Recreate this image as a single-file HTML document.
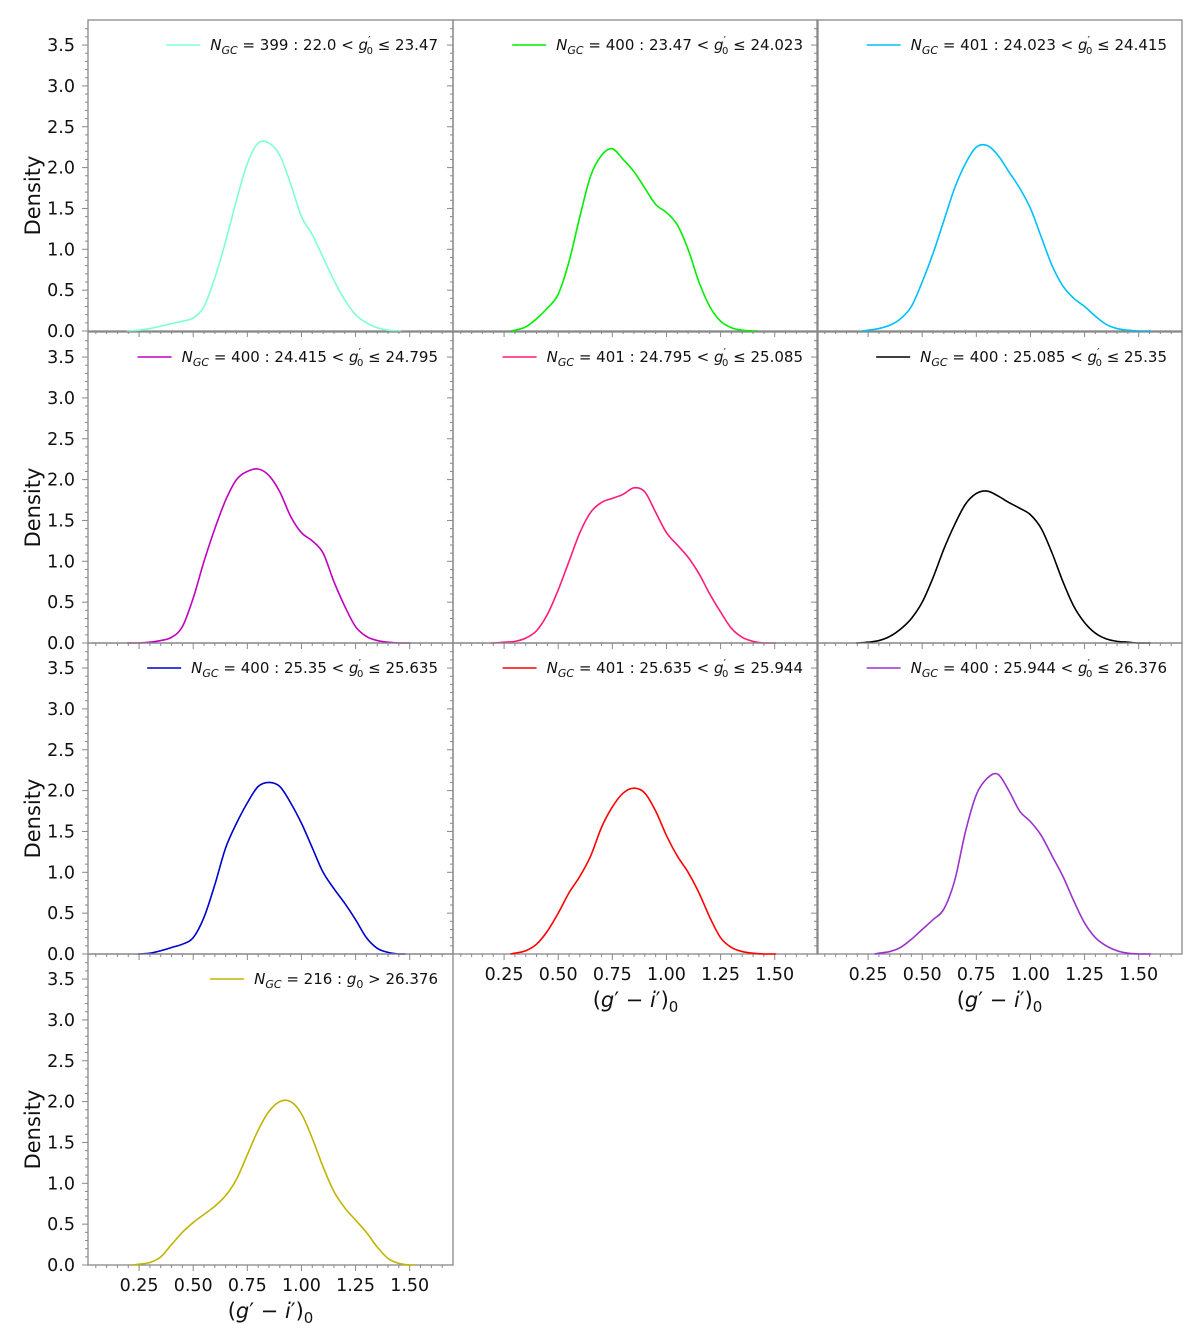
<!DOCTYPE html>
<html><head><meta charset="utf-8"><style>
html,body{margin:0;padding:0;background:#fff;}
svg{display:block;font-family:"DejaVu Sans","Liberation Sans",sans-serif;}
</style></head><body>
<svg id="fig" width="1200" height="1341" viewBox="0 0 1200 1341" xmlns="http://www.w3.org/2000/svg"></svg>
<script>
const gridX = [0.20,0.25,0.30,0.35,0.40,0.45,0.50,0.55,0.60,0.65,0.70,0.75,0.80,0.85,0.90,0.95,1.00,1.05,1.10,1.15,1.20,1.25,1.30,1.35,1.40,1.45,1.50,1.55];
const d1 = [0,0.01,0.03,0.06,0.09,0.12,0.16,0.3,0.65,1.1,1.6,2.05,2.3,2.3,2.15,1.8,1.4,1.18,0.9,0.62,0.38,0.2,0.1,0.04,0.01,0,0,0];
const d2 = [0,0,0.01,0.05,0.15,0.28,0.45,0.85,1.4,1.9,2.15,2.23,2.1,1.95,1.75,1.55,1.45,1.3,1.0,0.6,0.3,0.12,0.04,0.01,0,0,0,0];
const d3 = [0,0.01,0.03,0.07,0.15,0.3,0.6,0.95,1.35,1.75,2.05,2.25,2.27,2.15,1.95,1.75,1.5,1.15,0.8,0.55,0.4,0.3,0.18,0.08,0.03,0.01,0,0];
const d4 = [0,0,0.01,0.03,0.07,0.2,0.55,1.0,1.4,1.75,2.0,2.1,2.13,2.05,1.85,1.55,1.35,1.25,1.1,0.75,0.45,0.2,0.08,0.03,0.01,0,0,0];
const d5 = [0,0.01,0.02,0.06,0.15,0.35,0.65,1.0,1.35,1.6,1.72,1.77,1.82,1.9,1.85,1.6,1.35,1.2,1.05,0.85,0.6,0.38,0.18,0.07,0.02,0,0,0];
const d6 = [0,0.01,0.03,0.08,0.17,0.3,0.5,0.8,1.15,1.45,1.7,1.83,1.86,1.8,1.72,1.65,1.57,1.4,1.1,0.75,0.45,0.25,0.12,0.05,0.02,0.01,0,0];
const d7 = [0,0,0.01,0.04,0.08,0.12,0.2,0.45,0.85,1.3,1.6,1.85,2.05,2.1,2.05,1.85,1.6,1.3,1.0,0.8,0.62,0.42,0.2,0.07,0.02,0,0,0];
const d8 = [0,0,0.01,0.04,0.12,0.28,0.5,0.75,0.95,1.2,1.55,1.8,1.97,2.03,1.97,1.75,1.45,1.2,1.0,0.75,0.45,0.2,0.08,0.03,0.01,0,0,0];
const d9 = [0,0,0.01,0.03,0.08,0.18,0.3,0.42,0.55,0.9,1.5,1.95,2.15,2.2,2.0,1.75,1.62,1.45,1.2,0.95,0.65,0.38,0.2,0.1,0.04,0.01,0,0];
const d10 = [0,0.01,0.03,0.1,0.25,0.4,0.52,0.62,0.72,0.85,1.05,1.35,1.65,1.88,2.0,2.0,1.85,1.55,1.2,0.9,0.7,0.55,0.4,0.22,0.08,0.02,0,0];
const seriesData = [d1,d2,d3,d4,d5,d6,d7,d8,d9,d10];
const startX = [0.20,0.28,0.22,0.20,0.19,0.20,0.25,0.28,0.28,0.22];
const endX = [1.46,1.42,1.55,1.50,1.50,1.55,1.48,1.50,1.55,1.52];
const nGC = ["399","400","401","400","401","400","400","401","400","216"];
const lowB = ["22.0","23.47","24.023","24.415","24.795","25.085","25.35","25.635","25.944",null];
const highB = ["23.47","24.023","24.415","24.795","25.085","25.35","25.635","25.944","26.376","26.376"];
const colors = ["#7fffd4","#00ee00","#00bfff","#c000c0","#ff1a7a","#000000","#0000cd","#ff0000","#9a32cd","#bfb500"];
const yTicks = [0.0,0.5,1.0,1.5,2.0,2.5,3.0,3.5];
const xTicks = [0.25,0.50,0.75,1.00,1.25,1.50];

const NS="http://www.w3.org/2000/svg";
const svg=document.getElementById('fig');
function mk(tag,attrs,parent){const e=document.createElementNS(NS,tag);for(const k in attrs)e.setAttribute(k,attrs[k]);(parent||svg).appendChild(e);return e;}
const colL=[88,453,817], W=365, rowT=[20,332,643,954], H=311;
const XMIN=0.014, XMAX=1.70, YMAX=311/81.7;
const AX='#888';
for(let i=0;i<10;i++){
  const c=i%3, r=Math.floor(i/3);
  const L=colL[c], T=rowT[r], B=T+H, R=L+W;
  const sx=v=>L+(v-XMIN)/(XMAX-XMIN)*W;
  const sy=v=>B-v/YMAX*H;
  const g=mk('g',{});
  
  
  const fr=mk('rect',{x:L,y:T,width:W,height:H,fill:'none',stroke:AX,'stroke-width':1.3},g);
  
  
  for(let k=0;k<=37;k++){const v=k*0.1;if(v>YMAX)break;const y=sy(v);const major=(k%5===0);
    mk('line',{x1:L-(major?6:3),x2:L,y1:y,y2:y,stroke:AX,'stroke-width':1},g);}
  if(c===0){
    for(const v of yTicks){const t=mk('text',{x:L-13,y:sy(v)+6,'text-anchor':'end','font-size':17.5,fill:'#111'},g);t.textContent=v.toFixed(1);
      }
    const yl=mk('text',{x:0,y:0,'text-anchor':'middle','font-size':21,fill:'#111',transform:`translate(40,${(T+B)/2+20}) rotate(-90)`},g);
    yl.textContent='Density';
    
  }
  for(let k=1;k<=33;k++){const v=k*0.05;const x=sx(v);if(x>R)break;const major=Math.abs(v/0.25-Math.round(v/0.25))<1e-6;
    mk('line',{x1:x,x2:x,y1:B,y2:B+(major?6:3),stroke:AX,'stroke-width':1},g);}
  const showX=(i===7||i===8||i===9);
  if(showX){
    for(const v of xTicks){const t=mk('text',{x:sx(v),y:B+26,'text-anchor':'middle','font-size':17.5,fill:'#111'},g);t.textContent=v.toFixed(2);
      }
    const xt=mk('text',{x:(L+R)/2,y:B+53,'text-anchor':'middle','font-size':21,fill:'#111'},g);
    xt.innerHTML='(<tspan font-style="italic">g</tspan>′ − <tspan font-style="italic">i</tspan>′)<tspan font-size="15" dy="5">0</tspan>';
    
  }
  const d=seriesData[i];
  const pts=[];
  for(let k=0;k<gridX.length;k++){let v=gridX[k];if(v<startX[i]-1e-9)continue;if(v>endX[i]+1e-9)continue;pts.push([sx(v),sy(d[k])]);}
  pts.unshift([sx(startX[i]),sy(0)]);pts.push([sx(endX[i]),sy(0)]);
  let p=`M${pts[0][0]},${pts[0][1]}`;
  for(let k=0;k<pts.length-1;k++){const p0=pts[Math.max(k-1,0)],p1=pts[k],p2=pts[k+1],p3=pts[Math.min(k+2,pts.length-1)];
    const c1=[p1[0]+(p2[0]-p0[0])/6,p1[1]+(p2[1]-p0[1])/6],c2=[p2[0]-(p3[0]-p1[0])/6,p2[1]-(p3[1]-p1[1])/6];
    p+=` C${c1[0]},${Math.min(c1[1],B)} ${c2[0]},${Math.min(c2[1],B)} ${p2[0]},${p2[1]}`;}
  const path=mk('path',{d:p,fill:'none',stroke:colors[i],'stroke-width':1.6},g);
  
  const lt=mk('text',{x:0,y:T+30,'text-anchor':'start','font-size':15,fill:'#111'},g);
  let html='<tspan font-style="italic">N</tspan><tspan font-style="italic" font-size="11" dy="4">GC</tspan><tspan dy="-4"> = '+nGC[i]+' : </tspan>';
  if(lowB[i]!==null){html+='<tspan>'+lowB[i]+' &lt; </tspan><tspan font-style="italic">g</tspan><tspan font-size="11" dy="-6">′</tspan><tspan font-size="10" dx="-4" dy="10">0</tspan><tspan dy="-4"> ≤ '+highB[i]+'</tspan>';}
  else{html+='<tspan font-style="italic">g</tspan><tspan font-size="11" dy="4">0</tspan><tspan dy="-4"> &gt; '+highB[i]+'</tspan>';}
  lt.innerHTML=html;
  
  let tw=235;try{const bb=lt.getBBox();tw=bb.width;}catch(e){}
  const tx=R-15-tw;
  lt.setAttribute('x',tx);
  const lx2=tx-10;
  const ll=mk('line',{x1:lx2-34,x2:lx2,y1:T+25,y2:T+25,stroke:colors[i],'stroke-width':1.6},g);
  
}
</script>
</body></html>
